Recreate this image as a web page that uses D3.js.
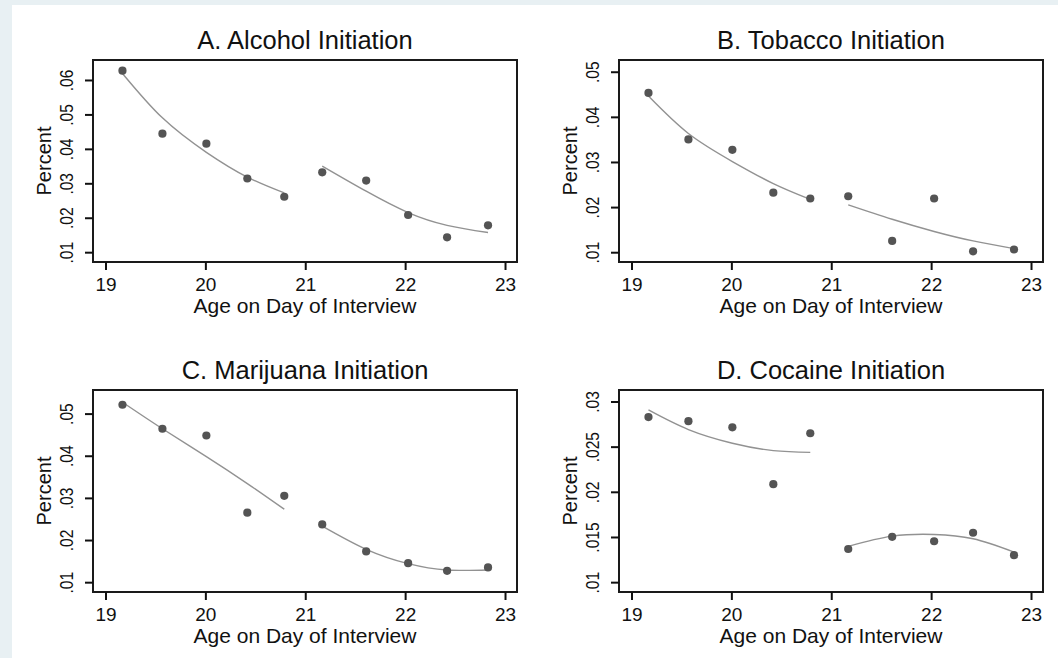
<!DOCTYPE html>
<html>
<head>
<meta charset="utf-8">
<script src="https://cdn.jsdelivr.net/npm/d3@7"></script>
<style>
  html, body { margin: 0; padding: 0; background: #fff; }
  svg { display: block; }
  text { font-family: "Liberation Sans", Arial, sans-serif; fill: #111; }
</style>
</head>
<body>
<svg id="chart" width="1058" height="658"></svg>
<script>
// Age bins (years) at which initiation rates are observed
const ages = [19.17, 19.57, 20.01, 20.42, 20.79, 21.17, 21.61, 22.03, 22.42, 22.83];
const xTicks = [19, 20, 21, 22, 23];

// Observed initiation rates
const alcoholRates   = [0.0627, 0.0444, 0.0415, 0.0314, 0.0261, 0.0332, 0.0308, 0.0208, 0.0143, 0.0178];
const tobaccoRates   = [0.0453, 0.0350, 0.0327, 0.0232, 0.0219, 0.0224, 0.0125, 0.0219, 0.0102, 0.0106];
const marijuanaRates = [0.0521, 0.0464, 0.0448, 0.0265, 0.0305, 0.0237, 0.0173, 0.0145, 0.0127, 0.0135];
const cocaineRates   = [0.02827, 0.02782, 0.02714, 0.02085, 0.02648, 0.01367, 0.01502, 0.01453, 0.01547, 0.01299];

// Quadratic fits, below age 21 and from age 21 on
const alcoholFitBelow   = [0.0619, 0.0490, 0.0390, 0.0318, 0.0272];
const alcoholFitAbove   = [0.0350, 0.0277, 0.0215, 0.0178, 0.0157];
const tobaccoFitBelow   = [0.0446, 0.0363, 0.0301, 0.0252, 0.0217];
const tobaccoFitAbove   = [0.0205, 0.0173, 0.0146, 0.0125, 0.0108];
const marijuanaFitBelow = [0.0527, 0.0464, 0.0398, 0.0334, 0.0273];
const marijuanaFitAbove = [0.0233, 0.0178, 0.0144, 0.0129, 0.0129];
const cocaineFitBelow   = [0.02906, 0.02689, 0.02538, 0.02456, 0.02437];
const cocaineFitAbove   = [0.01396, 0.01509, 0.01528, 0.01480, 0.01333];

// Y-axis ticks and ranges
const alcoholTicks   = [0.01, 0.02, 0.03, 0.04, 0.05, 0.06];
const tobaccoTicks   = [0.01, 0.02, 0.03, 0.04, 0.05];
const marijuanaTicks = [0.01, 0.02, 0.03, 0.04, 0.05];
const cocaineTicks   = [0.01, 0.015, 0.02, 0.025, 0.03];
const alcoholRange   = [0.00715, 0.0658];
const tobaccoRange   = [0.00783, 0.0526];
const marijuanaRange = [0.00767, 0.0556];
const cocaineRange   = [0.00891, 0.03127];
const xRange = [18.875, 23.12];

const titles = ["A. Alcohol Initiation", "B. Tobacco Initiation", "C. Marijuana Initiation", "D. Cocaine Initiation"];

const panels = [
  { title: titles[0], rates: alcoholRates,   below: alcoholFitBelow,   above: alcoholFitAbove,   ticks: alcoholTicks,   range: alcoholRange,   left: 93,  top: 60 },
  { title: titles[1], rates: tobaccoRates,   below: tobaccoFitBelow,   above: tobaccoFitAbove,   ticks: tobaccoTicks,   range: tobaccoRange,   left: 619, top: 60 },
  { title: titles[2], rates: marijuanaRates, below: marijuanaFitBelow, above: marijuanaFitAbove, ticks: marijuanaTicks, range: marijuanaRange, left: 93,  top: 390 },
  { title: titles[3], rates: cocaineRates,   below: cocaineFitBelow,   above: cocaineFitAbove,   ticks: cocaineTicks,   range: cocaineRange,   left: 619, top: 390 }
];

const W = 424, H = 202;
const svg = d3.select("#chart");

// page frame: pale band at top and left edge
svg.append("rect").attr("width", 1058).attr("height", 658).attr("fill", "#e8f0f3");
svg.append("rect").attr("x", 12).attr("y", 5).attr("width", 1046).attr("height", 653).attr("fill", "#ffffff");

const fmt = v => String(+v.toFixed(3)).replace(/^0\./, ".");

panels.forEach(p => {
  const g = svg.append("g").attr("transform", `translate(${p.left},${p.top})`);
  const x = d3.scaleLinear().domain(xRange).range([0, W]);
  const y = d3.scaleLinear().domain(p.range).range([H, 0]);

  // title
  g.append("text")
    .attr("x", W / 2).attr("y", -11)
    .attr("text-anchor", "middle")
    .style("font-size", "25.5px")
    .text(p.title);

  // fitted curves
  const line = d3.line()
    .x(d => x(d[0])).y(d => y(d[1]))
    .curve(d3.curveNatural);
  [[ages.slice(0, 5), p.below], [ages.slice(5), p.above]].forEach(([xs, ys]) => {
    g.append("path")
      .datum(xs.map((a, i) => [a, ys[i]]))
      .attr("d", line)
      .attr("fill", "none")
      .attr("stroke", "#929292")
      .attr("stroke-width", 1.4);
  });

  // observed points
  g.selectAll("circle.pt")
    .data(ages.map((a, i) => [a, p.rates[i]]))
    .join("circle")
    .attr("class", "pt")
    .attr("cx", d => x(d[0])).attr("cy", d => y(d[1]))
    .attr("r", 4.1)
    .attr("fill", "#545454");

  // plot border
  g.append("rect")
    .attr("width", W).attr("height", H)
    .attr("fill", "none")
    .attr("stroke", "#1a1a1a")
    .attr("stroke-width", 2);

  // x axis
  const xAxis = g.append("g").attr("transform", `translate(0,${H})`)
    .call(d3.axisBottom(x).tickValues(xTicks).tickSize(8).tickPadding(8).tickFormat(d3.format("d")));
  xAxis.select(".domain").remove();
  xAxis.selectAll("line").attr("stroke", "#111").attr("stroke-width", 2);
  xAxis.selectAll("text").style("font-size", "19px").attr("fill", "#111");

  g.append("text")
    .attr("x", W / 2).attr("y", H + 51)
    .attr("text-anchor", "middle")
    .style("font-size", "21px")
    .text("Age on Day of Interview");

  // y axis with rotated labels
  const yAxis = g.append("g")
    .call(d3.axisLeft(y).tickValues(p.ticks).tickSize(8).tickFormat(fmt));
  yAxis.select(".domain").remove();
  yAxis.selectAll("line").attr("stroke", "#111").attr("stroke-width", 2);
  yAxis.selectAll("text")
    .attr("x", null).attr("dy", null)
    .attr("text-anchor", "middle")
    .attr("transform", "translate(-20,0) rotate(-90) scale(0.82,1)")
    .style("font-size", "19px")
    .attr("fill", "#111");

  g.append("text")
    .attr("transform", `translate(-42,${H / 2}) rotate(-90)`)
    .attr("text-anchor", "middle")
    .style("font-size", "20px")
    .text("Percent");
});
</script>
</body>
</html>
